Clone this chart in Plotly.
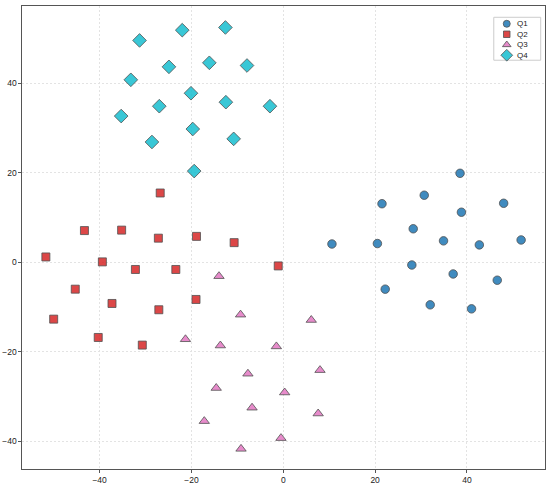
#!/usr/bin/env python3
'''Quadrant scatter of four groups.'''

import plotly.graph_objects as go

# Q1 - circles
q1_x = [38.5, 30.7, 21.5, 48.0, 38.8, 28.3, 10.6, 20.5, 34.9, 42.7, 51.8,
        28.0, 37.0, 46.6, 22.2, 32.0, 41.0]
q1_y = [19.9, 15.0, 13.1, 13.2, 11.2, 7.5, 4.1, 4.2, 4.8, 3.9, 5.0,
        -0.6, -2.6, -4.0, -6.0, -9.5, -10.4]

# Q2 - squares
q2_x = [-26.8, -43.3, -35.2, -27.2, -18.9, -10.7, -51.7, -39.4, -32.2,
        -23.4, -45.3, -37.3, -19.0, -27.1, -50.0, -40.3, -30.7, -1.1]
q2_y = [15.5, 7.1, 7.2, 5.4, 5.8, 4.4, 1.2, 0.1, -1.6,
        -1.6, -6.0, -9.2, -8.3, -10.6, -12.7, -16.8, -18.5, -0.8]

# Q3 - triangles
q3_x = [-14.0, -9.3, -21.3, -13.7, -1.5, -7.7, -14.6, -6.8, -17.2, -9.2,
        6.1, 8.0, 0.3, 7.6, -0.5]
q3_y = [-3.1, -11.7, -17.2, -18.6, -18.8, -24.9, -28.1, -32.5, -35.5, -41.7,
        -12.9, -24.1, -29.1, -33.8, -39.3]

# Q4 - diamonds
q4_x = [-31.3, -22.0, -12.6, -16.1, -7.9, -24.9, -33.2, -20.1, -12.5, -2.9,
        -27.0, -35.3, -19.7, -10.8, -28.6, -19.4]
q4_y = [49.6, 51.9, 52.5, 44.6, 44.0, 43.7, 40.8, 37.8, 35.8, 34.9,
        34.9, 32.7, 29.8, 27.6, 26.9, 20.4]

names = ['Q1', 'Q2', 'Q3', 'Q4']
xs_all = [q1_x, q2_x, q3_x, q4_x]
ys_all = [q1_y, q2_y, q3_y, q4_y]
symbols = ['circle', 'square', 'triangle-up', 'diamond']
colors = ['#1f77b4', '#d62728', '#e377c2', '#17becf']
sizes = [8.5, 8, 9, 10.5]
key_sizes = [7, 6.5, 7.5, 9]

# plot area in pixels (for the hand-drawn legend, matplotlib style)
PW, PH = 523.8, 463.6

fig = go.Figure()
for name, xs, ys, sym, col, sz in zip(names, xs_all, ys_all, symbols, colors, sizes):
    fig.add_trace(go.Scatter(
        x=xs, y=ys, mode='markers', name=name, showlegend=False,
        marker=dict(symbol=sym, color=col, size=sz, opacity=0.85,
                    line=dict(color='#333333', width=0.8)),
    ))

# legend keys, on an overlay axis measured in pixels of the plot area
row_y = [17.8, 28.3, 38.8, 49.3]
fig.add_trace(go.Scatter(
    x=[485.5] * 4, y=row_y, mode='markers', xaxis='x2', yaxis='y2',
    showlegend=False, hoverinfo='skip',
    marker=dict(symbol=symbols, color=colors, size=key_sizes, opacity=0.85,
                line=dict(color='#333333', width=0.8)),
))
for name, ry in zip(names, row_y):
    fig.add_annotation(x=494, y=ry, xref='x2', yref='y2', text=name,
                       showarrow=False, xanchor='left', yanchor='middle',
                       font=dict(size=8, color='#222222'))
fig.add_shape(type='rect', xref='x2', yref='y2', x0=472.5, x1=519.5,
              y0=11.3, y1=54.3, line=dict(color='#cccccc', width=1),
              fillcolor='rgba(255,255,255,0.8)', layer='below')

axis_style = dict(
    showgrid=True, gridcolor='#e3e3e3', griddash='2px,2px', gridwidth=0.7,
    zeroline=False, showline=True, linecolor='#555555', linewidth=1.3,
    mirror=True, ticks='outside', ticklen=2.5, tickcolor='#555555',
    tickfont=dict(size=8.5, color='#222222'),
    dtick=20, automargin=False,
)

fig.update_layout(
    width=550, height=486,
    margin=dict(l=21.5, r=4.7, t=5.7, b=16.7),
    paper_bgcolor='white', plot_bgcolor='white',
    font=dict(family='Liberation Sans, Arial, sans-serif', size=8),
    xaxis=dict(range=[-56.9, 57.0], **axis_style),
    yaxis=dict(range=[-46.2, 57.3], **axis_style),
    xaxis2=dict(overlaying='x', range=[0, PW], visible=False,
                fixedrange=True),
    yaxis2=dict(overlaying='y', range=[PH, 0], visible=False,
                fixedrange=True),
    showlegend=False,
)

# drop the page's default body margin so the figure sits at the window corner
fig.write_html('out.html', config={'displayModeBar': False},
               post_script="document.body.style.margin='0';"
                           "document.body.style.overflow='hidden';")
